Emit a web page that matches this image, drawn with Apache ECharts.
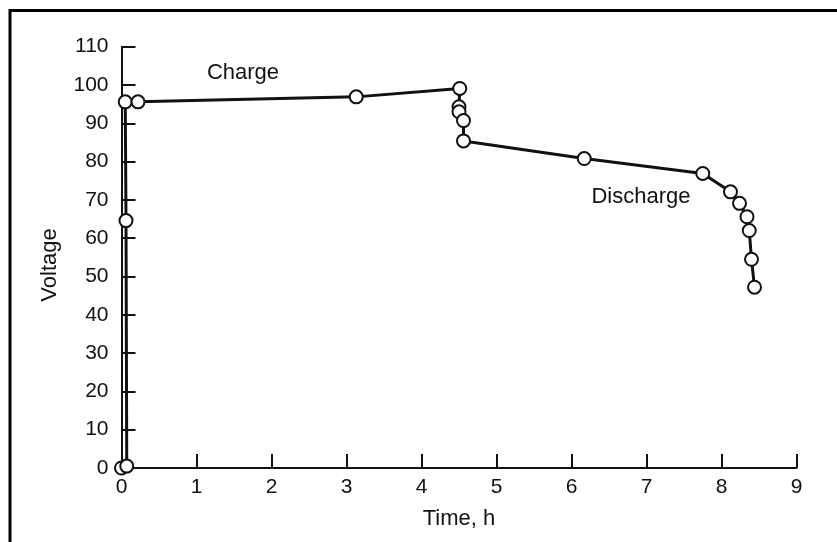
<!DOCTYPE html>
<html>
<head>
<meta charset="utf-8">
<script src="https://cdn.jsdelivr.net/npm/echarts@6/dist/echarts.min.js"></script>
<style>html,body{margin:0;padding:0;background:#fff;}#c{width:837px;height:542px;}</style>
</head>
<body>
<div id="c"></div>
<script>
// Data
const timeH = [0, 0.07, 0.06, 0.05, 0.22, 3.13, 4.51, 4.50, 4.50, 4.56, 4.56, 6.17, 7.75, 8.12, 8.24, 8.34, 8.37, 8.40, 8.44];
const voltage = [0, 0.5, 64.6, 95.6, 95.6, 96.9, 99.1, 94.3, 93.0, 90.7, 85.4, 80.8, 76.9, 72.1, 69.1, 65.6, 62.0, 54.5, 47.2];
const xTicks = [0, 1, 2, 3, 4, 5, 6, 7, 8, 9];
const yTicks = [0, 10, 20, 30, 40, 50, 60, 70, 80, 90, 100, 110];
const xTitle = 'Time, h';
const yTitle = 'Voltage';
const annotations = ['Charge', 'Discharge'];

const font = 'Liberation Sans, Arial, Helvetica, sans-serif';
const chart = echarts.init(document.getElementById('c'));
chart.setOption({
  animation: false,
  backgroundColor: '#fff',
  grid: { left: 121.5, right: 40.5, top: 46.7, bottom: 74, containLabel: false },
  xAxis: {
    type: 'value', min: xTicks[0], max: xTicks[xTicks.length - 1], interval: 1,
    name: xTitle, nameLocation: 'middle', nameGap: 40,
    nameTextStyle: { fontFamily: font, fontSize: 22, color: '#111' },
    axisLine: { lineStyle: { color: '#111', width: 2 } },
    axisTick: { inside: true, length: 14, lineStyle: { color: '#111', width: 2 } },
    axisLabel: { fontFamily: font, fontSize: 21, color: '#111', margin: 9 },
    splitLine: { show: false }
  },
  yAxis: {
    type: 'value', min: yTicks[0], max: yTicks[yTicks.length - 1], interval: 10,
    axisLine: { show: true, lineStyle: { color: '#111', width: 2 } },
    axisTick: { show: true, inside: true, length: 14, lineStyle: { color: '#111', width: 2 } },
    axisLabel: { fontFamily: font, fontSize: 21, color: '#111', margin: 13 },
    splitLine: { show: false }
  },
  series: [{
    type: 'line',
    data: timeH.map((t, i) => [t, voltage[i]]),
    symbol: 'circle', symbolSize: 13, showSymbol: true,
    lineStyle: { color: '#111', width: 3 },
    itemStyle: { color: '#fff', borderColor: '#111', borderWidth: 2 },
    z: 3
  }],
  graphic: [
    { type: 'rect', shape: { x: 10, y: 10.5, width: 1000, height: 1000 },
      style: { fill: null, stroke: '#000', lineWidth: 3 }, silent: true },
    { type: 'text', x: 50, y: 265, rotation: Math.PI / 2,
      style: { text: yTitle, font: '22px ' + font, fill: '#111', align: 'center', verticalAlign: 'middle' } },
    { type: 'text', x: 243, y: 73,
      style: { text: annotations[0], font: '22px ' + font, fill: '#111', align: 'center', verticalAlign: 'middle' } },
    { type: 'text', x: 641, y: 197,
      style: { text: annotations[1], font: '22px ' + font, fill: '#111', align: 'center', verticalAlign: 'middle' } }
  ]
});
</script>
</body>
</html>
